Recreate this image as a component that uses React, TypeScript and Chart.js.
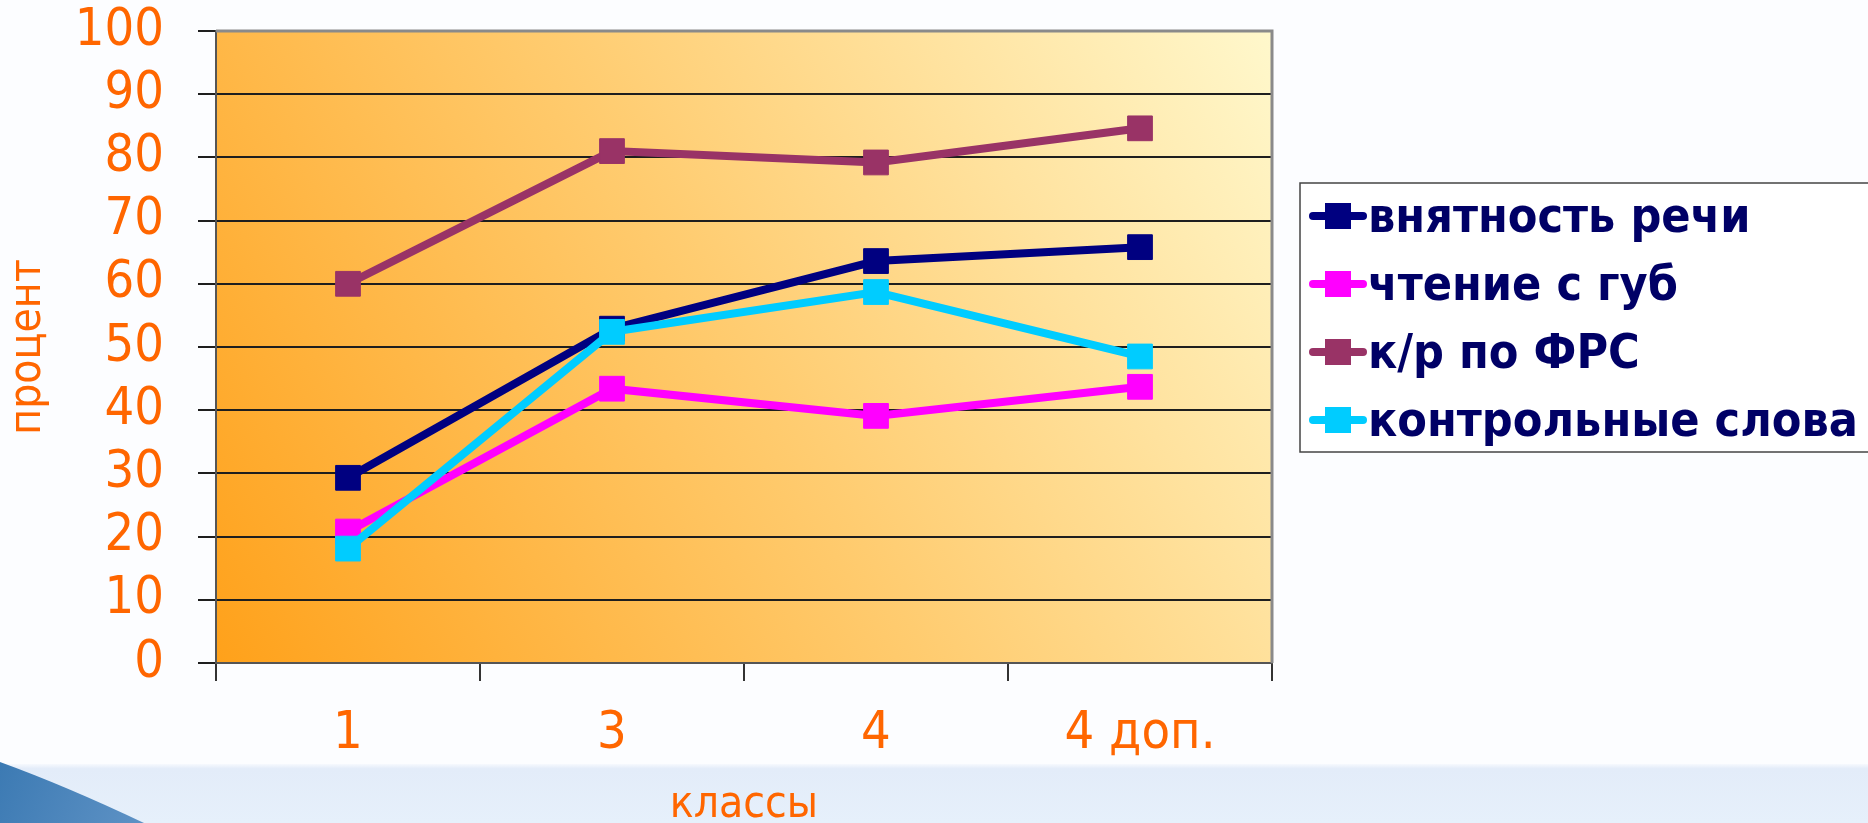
import React, { useEffect, useRef } from 'react';
import { Chart, registerables } from 'chart.js';

Chart.register(...registerables);

const categories = ['1', '3', '4', '4 доп.'];
const seriesNames = ['внятность речи', 'чтение с губ', 'к/р по ФРС', 'контрольные слова'];
const vnyatnostRechi = [29.3, 52.9, 63.6, 65.8];
const chtenieSGub = [20.8, 43.4, 39.1, 43.7];
const krPoFrs = [60.0, 81.0, 79.2, 84.6];
const kontrolnyeSlova = [18.1, 52.4, 58.7, 48.5];
const seriesColors = ['#000080', '#FF00FF', '#993366', '#00CCFF'];
const yMin = 0;
const yMax = 100;
const yStep = 10;
const xTitle = 'классы';
const yTitle = 'процент';

const FONT = "'DejaVu Sans Condensed', 'DejaVu Sans', sans-serif";
const ORANGE = '#FF6600';

const backgroundPlugin = {
  id: 'pageBackground',
  beforeDraw(chart: any) {
    const { ctx, width, height, chartArea } = chart;
    ctx.save();
    ctx.fillStyle = '#FCFDFF';
    ctx.fillRect(0, 0, width, height);
    // light blue band at the bottom
    const band = ctx.createLinearGradient(0, 764, 0, height);
    band.addColorStop(0, 'rgba(226,235,249,0.2)');
    band.addColorStop(0.08, '#E3ECF9');
    band.addColorStop(1, '#E6F0FB');
    ctx.fillStyle = band;
    ctx.fillRect(0, 764, width, height - 764);
    // blue swoosh bottom-left
    const sw = ctx.createLinearGradient(0, 762, 145, 823);
    sw.addColorStop(0, '#3C7AB3');
    sw.addColorStop(1, '#5E92C5');
    ctx.fillStyle = sw;
    ctx.beginPath();
    ctx.moveTo(0, 762);
    ctx.quadraticCurveTo(66, 786, 144, height);
    ctx.lineTo(0, height);
    ctx.closePath();
    ctx.fill();
    // plot area gradient
    const { left, right, top, bottom } = chartArea;
    const g = ctx.createLinearGradient(left, bottom, right, top);
    g.addColorStop(0, '#FFA11A');
    g.addColorStop(0.5, '#FFCC70');
    g.addColorStop(1, '#FFF8CC');
    ctx.fillStyle = g;
    ctx.fillRect(left, top, right - left, bottom - top);
    ctx.restore();
  },
};

const frameAndLegendPlugin = {
  id: 'frameAndLegend',
  afterDraw(chart: any) {
    const { ctx, chartArea } = chart;
    const { left, right, top, bottom } = chartArea;
    ctx.save();
    // top and right plot border
    ctx.strokeStyle = '#8A8A8A';
    ctx.lineWidth = 3;
    ctx.beginPath();
    ctx.moveTo(left, top);
    ctx.lineTo(right, top);
    ctx.lineTo(right, bottom);
    ctx.stroke();

    // legend box
    const boxL = 1300;
    const boxT = 183;
    const boxB = 452;
    ctx.fillStyle = '#FFFFFF';
    ctx.fillRect(boxL, boxT, chart.width - boxL + 10, boxB - boxT);
    ctx.strokeStyle = '#444444';
    ctx.lineWidth = 1.5;
    ctx.strokeRect(boxL, boxT, chart.width - boxL + 10, boxB - boxT);

    chart.data.datasets.forEach((ds: any, i: number) => {
      const cy = 216 + i * 68;
      ctx.strokeStyle = ds.borderColor;
      ctx.lineWidth = 8;
      ctx.lineCap = 'round';
      ctx.beginPath();
      ctx.moveTo(1313, cy);
      ctx.lineTo(1363, cy);
      ctx.stroke();
      ctx.fillStyle = ds.borderColor;
      ctx.fillRect(1325, cy - 13, 26, 26);
      ctx.fillStyle = '#000066';
      ctx.font = `bold 48px ${FONT}`;
      ctx.textAlign = 'left';
      ctx.textBaseline = 'alphabetic';
      ctx.fillText(ds.label, 1368, cy + 16);
    });
    ctx.restore();
  },
};

export default function App() {
  const ref = useRef<HTMLCanvasElement | null>(null);

  useEffect(() => {
    if (!ref.current) return;
    const values = [vnyatnostRechi, chtenieSGub, krPoFrs, kontrolnyeSlova];
    const chart = new Chart(ref.current, {
      type: 'line',
      data: {
        labels: categories,
        datasets: values.map((v, i) => ({
          label: seriesNames[i],
          data: v,
          borderColor: seriesColors[i],
          backgroundColor: seriesColors[i],
          borderWidth: 8,
          tension: 0,
          pointStyle: 'rect',
          pointRadius: 17.5,
          pointHoverRadius: 17.5,
          pointBorderWidth: 1,
          pointBorderColor: seriesColors[i],
          pointBackgroundColor: seriesColors[i],
          order: values.length - i,
        })),
      },
      options: {
        responsive: false,
        animation: false,
        events: [],
        layout: { padding: { left: 0, top: 31, right: 1868 - 1272, bottom: 0 } },
        plugins: {
          legend: { display: false },
          tooltip: { enabled: false },
        },
        scales: {
          x: {
            offset: true,
            grid: {
              offset: true,
              drawOnChartArea: false,
              drawTicks: true,
              tickLength: 18,
              color: '#333333',
              lineWidth: 2,
            },
            border: { color: '#555555', width: 2 },
            ticks: {
              color: ORANGE,
              font: { family: FONT, size: 52 },
              padding: 22,
              maxRotation: 0,
            },
            title: {
              display: true,
              text: xTitle,
              color: ORANGE,
              font: { family: FONT, size: 44, lineHeight: 0.8 },
              padding: { top: 0, bottom: 0 },
            },
            afterFit(scale: any) {
              scale.height = 823 - 663;
              scale.paddingLeft = 0;
              scale.paddingRight = 0;
            },
          },
          y: {
            min: yMin,
            max: yMax,
            ticks: {
              stepSize: yStep,
              autoSkip: false,
              color: ORANGE,
              font: { family: FONT, size: 52, lineHeight: 1.2 },
              padding: 34,
            },
            grid: {
              color: '#1E1E1E',
              lineWidth: 2,
              tickLength: 18,
              drawTicks: true,
            },
            border: { color: '#555555', width: 2 },
            title: {
              display: true,
              text: yTitle,
              color: ORANGE,
              font: { family: FONT, size: 44 },
              padding: { top: 2, bottom: 0 },
            },
            afterFit(scale: any) {
              scale.width = 216;
              scale.paddingTop = 0;
              scale.paddingBottom = 0;
            },
          },
        },
      },
      plugins: [backgroundPlugin, frameAndLegendPlugin],
    });
    return () => chart.destroy();
  }, []);

  return (
    <div style={{ position: 'fixed', left: 0, top: 0, width: 1868, height: 823 }}>
      <canvas ref={ref} width={1868} height={823} />
    </div>
  );
}
